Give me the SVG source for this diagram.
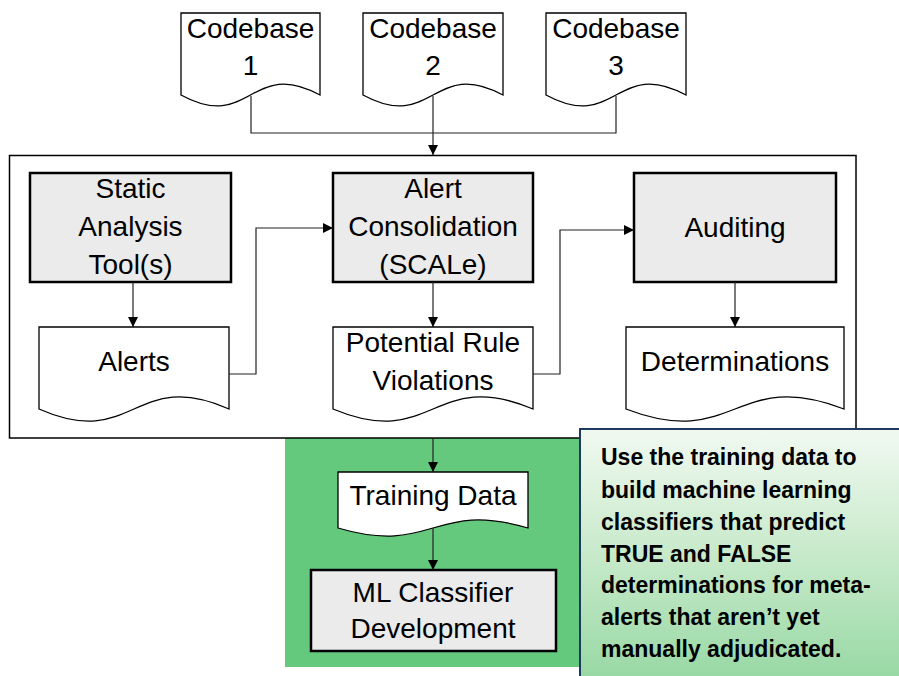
<svg xmlns="http://www.w3.org/2000/svg" width="899" height="676" viewBox="0 0 899 676">
<style>
.doc{fill:#fff;stroke:#000;stroke-width:1.3}
.proc{fill:#ebebeb;stroke:#000;stroke-width:2.5}
.t{font-family:"Liberation Sans",Arial,sans-serif;font-size:28px;fill:#000;text-anchor:middle}
.c{font-family:"Liberation Sans",Arial,sans-serif;font-size:23px;font-weight:bold;fill:#000}
.ln{fill:none;stroke:#222;stroke-width:1.2}
</style>
<defs>
<marker id="ah" markerUnits="userSpaceOnUse" markerWidth="10" markerHeight="10" refX="10" refY="5" orient="auto">
<path d="M0,0 L10,5 L0,10 Z" fill="#000"/>
</marker>
<linearGradient id="cg" x1="0" y1="0" x2="0" y2="1">
<stop offset="0" stop-color="#f1f9f1"/>
<stop offset="0.5" stop-color="#c6e9c9"/>
<stop offset="1" stop-color="#94d7a1"/>
</linearGradient>
</defs>

<rect id="green-area" x="285" y="438" width="300" height="229" fill="#64c97c"/>
<g id="frame"><rect x="9.5" y="155.5" width="846.5" height="282.5" fill="#fff" fill-opacity="0" stroke="#000" stroke-width="1.5"/></g>

<g id="codebase1">
<path class="doc" d="M181,13 H320 V95 C250.5,57 250.5,133 181,95 Z"/>
<text class="t" x="250.5" y="38">Codebase</text>
<text class="t" x="250.5" y="75">1</text>
</g>
<g id="codebase2">
<path class="doc" d="M363,13 H503 V95 C433,57 433,133 363,95 Z"/>
<text class="t" x="433" y="38">Codebase</text>
<text class="t" x="433" y="75">2</text>
</g>
<g id="codebase3">
<path class="doc" d="M546,13 H686 V95 C616,57 616,133 546,95 Z"/>
<text class="t" x="616" y="38">Codebase</text>
<text class="t" x="616" y="75">3</text>
</g>

<g id="static-analysis">
<rect class="proc" x="30" y="173" width="201" height="109"/>
<text class="t" x="130.5" y="198">Static</text>
<text class="t" x="130.5" y="236">Analysis</text>
<text class="t" x="130.5" y="274">Tool(s)</text>
</g>
<g id="alert-consolidation">
<rect class="proc" x="333" y="173" width="200" height="109"/>
<text class="t" x="433" y="198">Alert</text>
<text class="t" x="433" y="236">Consolidation</text>
<text class="t" x="433" y="274">(SCALe)</text>
</g>
<g id="auditing">
<rect class="proc" x="634" y="173" width="202" height="109"/>
<text class="t" x="735" y="237">Auditing</text>
</g>

<g id="alerts">
<path class="doc" d="M39,327 H229 V409 C134,367 134,451 39,409 Z"/>
<text class="t" x="134" y="371">Alerts</text>
</g>
<g id="potential-rule-violations">
<path class="doc" d="M333,327 H533 V409 C433,367 433,451 333,409 Z"/>
<text class="t" x="433" y="352">Potential Rule</text>
<text class="t" x="433" y="390">Violations</text>
</g>
<g id="determinations">
<path class="doc" d="M626,327 H844 V409 C735,367 735,451 626,409 Z"/>
<text class="t" x="735" y="371">Determinations</text>
</g>

<g id="training-data">
<path class="doc" d="M338,472 H528 V528 C433,500 433,556 338,528 Z"/>
<text class="t" x="433" y="505">Training Data</text>
</g>
<g id="ml-classifier">
<rect class="proc" x="311" y="570" width="245" height="81"/>
<text class="t" x="433" y="602">ML Classifier</text>
<text class="t" x="433" y="638">Development</text>
</g>

<g id="connectors">
<path class="ln" d="M251,96 V133 H616 V96"/>
<path class="ln" d="M433,96 V155" marker-end="url(#ah)"/>
<path class="ln" d="M133,282 V327" marker-end="url(#ah)"/>
<path class="ln" d="M433,282 V327" marker-end="url(#ah)"/>
<path class="ln" d="M735,282 V327" marker-end="url(#ah)"/>
<path class="ln" d="M229,374 H256 V228 H333" marker-end="url(#ah)"/>
<path class="ln" d="M533,374 H560 V230 H634" marker-end="url(#ah)"/>
<path class="ln" d="M433,438 V472" marker-end="url(#ah)"/>
<path class="ln" d="M433,528 V570" marker-end="url(#ah)"/>
</g>

<g id="callout">
<rect x="580" y="429" width="330" height="260" fill="url(#cg)" stroke="#1f3a60" stroke-width="2"/>
<text class="c" x="601" y="465">Use the training data to</text>
<text class="c" x="601" y="498">build machine learning</text>
<text class="c" x="601" y="530">classifiers that predict</text>
<text class="c" x="601" y="562">TRUE and FALSE</text>
<text class="c" x="601" y="593">determinations for meta-</text>
<text class="c" x="601" y="625">alerts that aren’t yet</text>
<text class="c" x="601" y="657">manually adjudicated.</text>
</g>
</svg>
